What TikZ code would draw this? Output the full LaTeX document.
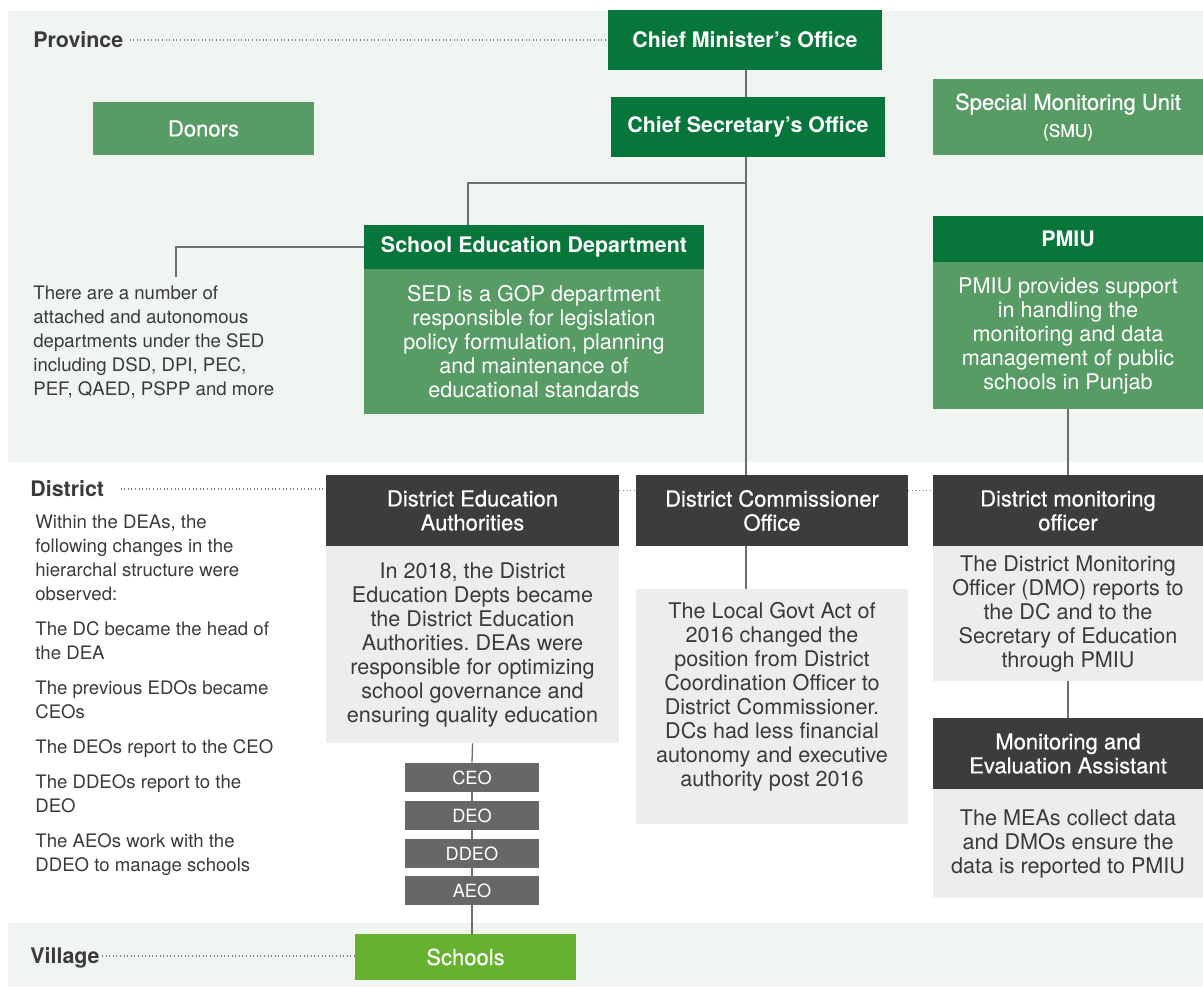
\documentclass[tikz,border=0pt]{standalone}
\usepackage{fontspec}
\setmainfont{TeX Gyre Heros}
\newfontfamily\medfont[FakeBold=0.6]{TeX Gyre Heros}
\usepackage{tikz}
\usetikzlibrary{positioning, calc}
\usepackage{xcolor}
\definecolor{dkgreen}{HTML}{07763A}
\definecolor{mdgreen}{HTML}{579B65}
\definecolor{ltgreen}{HTML}{66B22F}
\definecolor{band}{HTML}{F0F5F1}
\definecolor{hdgrey}{HTML}{3C3C3C}
\definecolor{bdgrey}{HTML}{EDEDED}
\definecolor{rankgrey}{HTML}{676767}
\definecolor{txtgrey}{HTML}{3A3A3A}
\definecolor{linegrey}{HTML}{6E6E6E}
\frenchspacing

\begin{document}
\begin{tikzpicture}[x=0.5pt, y=-0.5pt,
    box/.style={rectangle, inner sep=0pt, align=center},
    gnhead/.style={box, fill=dkgreen, text=white, font=\bfseries\fontsize{10.7}{12}\selectfont},
    gnbody/.style={box, fill=mdgreen, text=white, font=\fontsize{10.8}{12}\selectfont},
    gnplain/.style={box, fill=mdgreen, text=white, font=\medfont\fontsize{11}{13.5}\selectfont},
    gyhead/.style={box, fill=hdgrey, text=white, font=\medfont\fontsize{11}{12}\selectfont},
    gybody/.style={box, fill=bdgrey, text=txtgrey, font=\fontsize{10.8}{12}\selectfont},
    rank/.style={box, fill=rankgrey, text=white, minimum width=67pt, minimum height=14.5pt, font=\fontsize{9.1}{11}\selectfont},
    level/.style={anchor=west, inner sep=0pt, text height=7.7pt, text depth=0pt, text=txtgrey, font=\bfseries\fontsize{10.7}{12}\selectfont},
    note/.style={anchor=north west, inner sep=0pt, align=left, text=txtgrey, font=\fontsize{9.3}{12}\selectfont},
    link/.style={draw=linegrey, line width=0.65pt},
    dots/.style={draw=gray, line width=0.6pt, dash pattern=on 0.5pt off 1.3pt}]
    \useasboundingbox (0,0) rectangle (1203,987);
    \fill[band] (8,11) rectangle (1203,462);%province band
    \fill[band] (8,923) rectangle (1203,987);%village band

    % province
    \node[level] (prov) at (33,40) {Province};
    \node[gnhead, minimum width=137pt, minimum height=30pt] (cmo) at (745,40) {Chief Minister’s Office};
    \node[gnhead, minimum width=137pt, minimum height=30pt] (cso) at (748,127) {Chief Secretary’s Office};
    \node[gnplain, minimum width=110.5pt, minimum height=26.5pt] (donors) at (203.5,128.5) {Donors};
    \node[gnplain, minimum width=135pt, minimum height=38pt] (smu) at (1068,117) {Special Monitoring Unit\\{\fontsize{8.7}{10}\selectfont\mdseries(SMU)}};
    \node[gnhead, minimum width=170pt, minimum height=22pt] (sedh) at (534,247) {School Education Department};
    \node[gnbody, minimum width=170pt, minimum height=72.5pt] (sedb) at (534,341.5) {SED is a GOP department\\responsible for legislation\\policy formulation, planning\\and maintenance of\\educational standards};
    \node[note] (sednote) at (33,285) {There are a number of\\attached and autonomous\\departments under the SED\\including DSD, DPI, PEC,\\PEF, QAED, PSPP and more};
    \node[gnhead, minimum width=135pt, minimum height=23pt] (pmiuh) at (1068,239) {PMIU};
    \node[gnbody, minimum width=135pt, minimum height=73.5pt] (pmiub) at (1068,335.5) {PMIU provides support\\in handling the\\monitoring and data\\management of public\\schools in Punjab};

    % district
    \node[level] (dist) at (30,489) {District};
    \node[note] (deanote) at (35,515) {Within the DEAs, the\\following changes in the\\hierarchal structure were\\observed:\\[5.5pt]The DC became the head of\\the DEA\\[5.5pt]The previous EDOs became\\CEOs\\[5.5pt]The DEOs report to the CEO\\[5.5pt]The DDEOs report to the\\DEO\\[5.5pt]The AEOs work with the\\DDEO to manage schools};
    \node[gyhead, minimum width=146.5pt, minimum height=35.5pt] (deah) at (472.5,510.5) {District Education\\Authorities};
    \node[gybody, minimum width=146.5pt, minimum height=98.5pt] (deab) at (472.5,644.5) {In 2018, the District\\Education Depts became\\the District Education\\Authorities. DEAs were\\responsible for optimizing\\school governance and\\ensuring quality education};
    \node[gyhead, minimum width=136pt, minimum height=35.5pt] (dcoh) at (772,510.5) {District Commissioner\\Office};
    \node[gybody, minimum width=136pt, minimum height=117.5pt] (dcob) at (772,706.5) {};
    \node[gybody, fill=none] (dcot) at (772,697) {The Local Govt Act of\\2016 changed the\\position from District\\Coordination Officer to\\District Commissioner.\\DCs had less financial\\autonomy and executive\\authority post 2016};
    \node[gyhead, minimum width=135pt, minimum height=35.5pt] (dmoh) at (1068,510.5) {District monitoring\\officer};
    \node[gybody, minimum width=135pt, minimum height=67.5pt] (dmob) at (1068,613.5) {The District Monitoring\\Officer (DMO) reports to\\the DC and to the\\Secretary of Education\\through PMIU};
    \node[gyhead, minimum width=135pt, minimum height=35.5pt] (meah) at (1068,753.5) {Monitoring and\\Evaluation Assistant};
    \node[gybody, minimum width=135pt, minimum height=54.5pt] (meab) at (1068,843.5) {The MEAs collect data\\and DMOs ensure the\\data is reported to PMIU};
    \node[rank] (ceo) at (472,777.5) {CEO};
    \node[rank] (deo) at (472,815.5) {DEO};
    \node[rank] (ddeo) at (472,853.5) {DDEO};
    \node[rank] (aeo) at (472,890.5) {AEO};

    % village
    \node[level] (vill) at (30,956) {Village};
    \node[box, fill=ltgreen, text=white, font=\medfont\fontsize{11}{13}\selectfont, minimum width=110.5pt, minimum height=23pt] (schools) at (465.5,957) {Schools};

    % connectors
    \coordinate (spine) at (746,183);%main vertical
    \coordinate (sedjoint) at (468,183);
    \coordinate (sedside) at (176,277);
    \draw[link] (cmo.south -| spine) -- (cso.north -| spine);
    \draw[link] (cso.south -| spine) -- (dcoh.north -| spine);
    \draw[link] (spine) -- (sedjoint) -- (sedjoint |- sedh.north);
    \draw[link] (sedh.west) -| (sedside);
    \draw[link] (pmiub.south) -- (dmoh.north);
    \draw[link] (dmob.south) -- (meah.north);
    \draw[link] (dcoh.south -| spine) -- (dcob.north -| spine);
    \foreach \a/\b in {deab/ceo, ceo/deo, deo/ddeo, ddeo/aeo}
        \draw[link] (\a.south) -- (\b.north);
    \draw[link] (aeo.south) -- (aeo.south |- schools.north);

    % dotted level lines
    \draw[dots] ([xshift=3pt]prov.east) -- (prov.east -| cmo.west);
    \draw[dots] ([xshift=8pt]dist.east) -- (dist.east -| deah.west);
    \draw[dots] ([yshift=10pt]deah.east) -- ([yshift=10pt]dcoh.west);
    \draw[dots] ([yshift=10pt]dcoh.east) -- ([yshift=10pt]dmoh.west);
    \draw[dots] ([xshift=1pt]vill.east) -- (vill.east -| schools.west);
\end{tikzpicture}
\end{document}
